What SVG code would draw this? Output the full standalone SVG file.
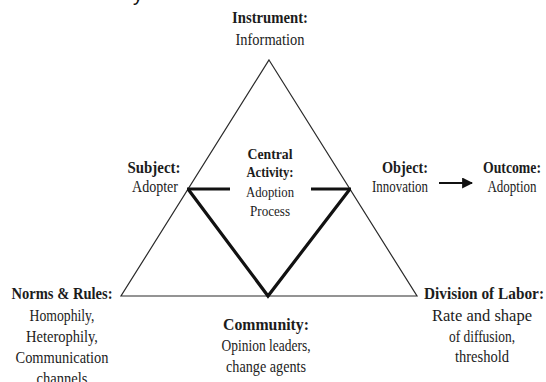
<svg xmlns="http://www.w3.org/2000/svg" width="546" height="382" viewBox="0 0 546 382">
<style>
text{font-family:"Liberation Serif","Times New Roman",serif;fill:#1c1c1c;text-anchor:middle}
.h{font-weight:bold;font-size:17px}
.b{font-size:17px}
.hc{font-weight:bold;font-size:15px}
.bc{font-size:15px}
.tri{fill:none;stroke:#2a2a2a;stroke-width:1.2;stroke-linejoin:miter}
.thick{fill:none;stroke:#111;stroke-width:3.2;stroke-linejoin:miter}
</style>
<defs>
<marker id="ah" viewBox="0 0 10 10" refX="9" refY="5" markerWidth="5" markerHeight="5" orient="auto" markerUnits="strokeWidth">
<path d="M0,0 L10,5 L0,10 z" fill="#111"/>
</marker>
</defs>
<rect width="546" height="382" fill="#fff"/>
<text x="138" y="1" style="font-family:'Liberation Sans',Arial,sans-serif;font-size:20px;fill:#111">y</text>
<g id="connectors">
<polygon class="tri" points="269,60 417,296 121,296"/>
<polyline class="thick" points="188,189 268,296 350,189"/>
<line class="thick" x1="187" y1="189" x2="230" y2="189"/>
<line class="thick" x1="311" y1="189" x2="351" y2="189"/>
<line x1="439" y1="183" x2="472" y2="183" stroke="#111" stroke-width="2.2" marker-end="url(#ah)"/>
</g>
<g id="instrument">
<text class="h" x="270" y="23" textLength="76" lengthAdjust="spacingAndGlyphs">Instrument:</text>
<text class="b" x="270" y="45" textLength="69" lengthAdjust="spacingAndGlyphs">Information</text>
</g>
<g id="subject">
<text class="h" x="154" y="173" textLength="53" lengthAdjust="spacingAndGlyphs">Subject:</text>
<text class="b" x="155" y="192" textLength="46" lengthAdjust="spacingAndGlyphs">Adopter</text>
</g>
<g id="central">
<text class="hc" x="270" y="159" textLength="45" lengthAdjust="spacingAndGlyphs">Central</text>
<text class="hc" x="270" y="177" textLength="47" lengthAdjust="spacingAndGlyphs">Activity:</text>
<text class="bc" x="270" y="197" textLength="48" lengthAdjust="spacingAndGlyphs">Adoption</text>
<text class="bc" x="270" y="216" textLength="40" lengthAdjust="spacingAndGlyphs">Process</text>
</g>
<g id="object">
<text class="h" x="405" y="173" textLength="46" lengthAdjust="spacingAndGlyphs">Object:</text>
<text class="b" x="400" y="192" textLength="56" lengthAdjust="spacingAndGlyphs">Innovation</text>
</g>
<g id="outcome">
<text class="h" x="512" y="173" textLength="58" lengthAdjust="spacingAndGlyphs">Outcome:</text>
<text class="b" x="512" y="192" textLength="49" lengthAdjust="spacingAndGlyphs">Adoption</text>
</g>
<g id="norms">
<text class="h" x="62" y="299" textLength="101" lengthAdjust="spacingAndGlyphs">Norms &amp; Rules:</text>
<text class="b" x="62" y="321" textLength="65" lengthAdjust="spacingAndGlyphs">Homophily,</text>
<text class="b" x="62" y="342" textLength="72" lengthAdjust="spacingAndGlyphs">Heterophily,</text>
<text class="b" x="62" y="363" textLength="93" lengthAdjust="spacingAndGlyphs">Communication</text>
<text class="b" x="62" y="384" textLength="51" lengthAdjust="spacingAndGlyphs">channels</text>
</g>
<g id="community">
<text class="h" x="266" y="330" textLength="86" lengthAdjust="spacingAndGlyphs">Community:</text>
<text class="b" x="266" y="351" textLength="89" lengthAdjust="spacingAndGlyphs">Opinion leaders,</text>
<text class="b" x="266" y="372" textLength="80" lengthAdjust="spacingAndGlyphs">change agents</text>
</g>
<g id="division">
<text class="h" x="484" y="299" textLength="120" lengthAdjust="spacingAndGlyphs">Division of Labor:</text>
<text class="b" x="482" y="321" textLength="100" lengthAdjust="spacingAndGlyphs">Rate and shape</text>
<text class="b" x="482" y="342" textLength="66" lengthAdjust="spacingAndGlyphs">of diffusion,</text>
<text class="b" x="482" y="362" textLength="54" lengthAdjust="spacingAndGlyphs">threshold</text>
</g>
</svg>
